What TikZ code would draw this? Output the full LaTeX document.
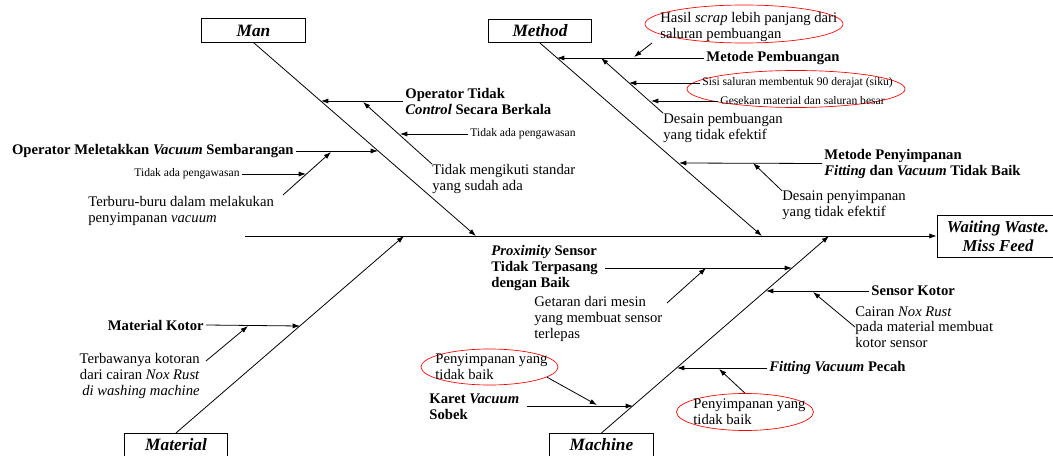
\documentclass[tikz,border=0pt]{standalone}
\usepackage{fontspec}
\setmainfont{Liberation Serif}
\usetikzlibrary{arrows.meta, shapes.geometric}
\tikzset{>={Latex[length=5.5pt,width=3.8pt]}}
\tikzset{every text node part/.style={align=left}}

\begin{document}
\begin{tikzpicture}[x={(0.75pt,0)}, y={(0,-0.75pt)}, line width=0.6pt,
	catbox/.style={draw, inner sep=0pt, minimum width=77.5pt, minimum height=17.5pt,
		font=\fontsize{13}{15}\selectfont\bfseries\itshape},
	cause/.style={inner sep=1.5pt, font=\fontsize{11}{12}\selectfont\bfseries},
	reason/.style={inner sep=0pt, font=\fontsize{11}{11.8}\selectfont},
	small/.style={inner sep=1.5pt, font=\fontsize{8.7}{10}\selectfont},
	ring/.style={draw=red, ellipse, inner sep=0pt, line width=0.5pt}]

\useasboundingbox (0,0) rectangle (1053,456);

% Head and Spine
\node[catbox, minimum width=91.5pt, minimum height=31.5pt, font=\fontsize{12.5}{14.5}\selectfont\bfseries\itshape,
	every text node part/.style={align=center}] (head) at (998,236)
	{Waiting Waste.\\Miss Feed};
\coordinate (tail) at (245,236);
\draw[->] (tail) -- (head.west);

% Category Boxes
\node[catbox] (man)      at (253.5,30.5) {Man};
\node[catbox] (method)   at (540,31)     {Method};
\node[catbox] (material) at (176,445)    {Material};
\node[catbox] (machine)  at (601.5,445)  {Machine};

\coordinate (manT)  at (476,236);
\coordinate (methT) at (762,236);
\coordinate (matT)  at (404,236);
\coordinate (macT)  at (829,236);

\foreach \cat/\tip in {man.south/manT, method.south/methT, material.north/matT, machine.north/macT}
	\draw[->] (\cat) -- (\tip);

% Man
\coordinate (m1) at (321,101);
\node[cause, anchor=west] (opctrl) at (403,101) {Operator Tidak\\\textit{Control} Secara Berkala};
\draw[->] (opctrl.west) -- (m1);
\node[reason, anchor=west] (standar) at (432,179) {Tidak mengikuti standar\\yang sudah ada};
\coordinate (m1b) at (363,102);
\draw[->] (standar.north west) -- (m1b);
\node[small, anchor=west] (awas1) at (468,134) {Tidak ada pengawasan};
\coordinate (m1c) at (400,134);
\draw[->] (awas1.west) -- (m1c);

\coordinate (m2) at (378,151);
\node[cause, anchor=east] (opvac) at (296,151) {Operator Meletakkan \textit{Vacuum} Sembarangan};
\draw[->] (opvac.east) -- (m2);
\node[reason, anchor=west] (rush) at (88,211) {Terburu-buru dalam melakukan\\penyimpanan \textit{vacuum}};
\coordinate (m2a) at (283,195);
\coordinate (m2b) at (331,152);
\draw[->] (m2a) -- (m2b);
\node[small, anchor=east] (awas2) at (242,174) {Tidak ada pengawasan};
\coordinate (m2c) at (306,174);
\draw[->] (awas2.east) -- (m2c);

% Method
\coordinate (t1) at (557,58);
\node[cause, anchor=west] (mbuang) at (704,58) {Metode Pembuangan};
\draw[->] (mbuang.west) -- (t1);
\node[ring, minimum width=148.5pt, minimum height=28.5pt] (ring1) at (744,24) {};
\node[reason, anchor=west] (scrap) at (660,27) {Hasil \textit{scrap} lebih panjang dari\\saluran pembuangan};
\coordinate (t1s) at (652,43);
\coordinate (t1e) at (634,57);
\draw[->] (t1s) -- (t1e);
\node[reason, anchor=west] (dpemb) at (663,128) {Desain pembuangan\\yang tidak efektif};
\coordinate (t1b) at (601,58);
\draw[->] (dpemb.north west) -- (t1b);
\node[ring, minimum width=163.5pt, minimum height=27.75pt] (ring2) at (796,89) {};
\node[small, anchor=west] (siku) at (700,83) {Sisi saluran membentuk 90 derajat (siku)};
\coordinate (t1c) at (629,83);
\draw[->] (siku.west) -- (t1c);
\node[small, anchor=west] (gesek) at (718,101) {Gesekan material dan saluran besar};
\coordinate (t1d) at (651,101);
\draw[->] (gesek.west) -- (t1d);

\coordinate (t2) at (679,163);
\node[cause, anchor=west] (msimpan) at (822,163.5) {Metode Penyimpanan\\\textit{Fitting} dan \textit{Vacuum} Tidak Baik};
\draw[->] (msimpan.west) -- (t2);
\node[reason, anchor=west] (dsimpan) at (782,205.5) {Desain penyimpanan\\yang tidak efektif};
\coordinate (t2b) at (753,163);
\draw[->] (dsimpan.north west) -- (t2b);

% Material
\coordinate (a1) at (300,326);
\node[cause, anchor=east] (mkotor) at (206,325) {Material Kotor};
\draw[->] (mkotor.east) -- (a1);
\node[reason, anchor=east, every text node part/.style={align=right}] (kotoran) at (200,376)
	{Terbawanya kotoran\\dari cairan \textit{Nox Rust}\\\textit{di washing machine}};
\coordinate (a1a) at (206,361);
\coordinate (a1b) at (248,326);
\draw[->] (a1a) -- (a1b);

% Machine
\coordinate (k1) at (792,268);
\node[cause, anchor=west] (prox) at (489,268) {\textit{Proximity} Sensor\\Tidak Terpasang\\dengan Baik};
\coordinate (k1s) at (605,268);
\draw[->] (k1s) -- (k1);
\node[reason, anchor=west] (getar) at (534,319) {Getaran dari mesin\\yang membuat sensor\\terlepas};
\coordinate (k1a) at (667,303);
\coordinate (k1b) at (706,268);
\draw[->] (k1a) -- (k1b);

\coordinate (k2) at (766,291);
\node[cause, anchor=west] (skotor) at (869,291) {Sensor Kotor};
\draw[->] (skotor.west) -- (k2);
\node[reason, anchor=west] (cairan) at (855,327) {Cairan \textit{Nox Rust}\\pada material membuat\\kotor sensor};
\coordinate (k2b) at (813,292);
\draw[->] (cairan.west) -- (k2b);

\coordinate (k3) at (677,368);
\node[cause, anchor=west] (fitting) at (767,368) {\textit{Fitting Vacuum} Pecah};
\draw[->] (fitting.west) -- (k3);
\node[ring, minimum width=102.75pt, minimum height=27.75pt] (ring3) at (745,412) {};
\node[reason, anchor=west] (simpan1) at (693,411.5) {Penyimpanan yang\\tidak baik};
\coordinate (k3b) at (719,369);
\draw[->] (ring3.north) -- (k3b);

\coordinate (k4) at (633,406);
\node[cause, anchor=west] (karet) at (427,406.5) {Karet \textit{Vacuum}\\Sobek};
\coordinate (k4s) at (527,406);
\draw[->] (k4s) -- (k4);
\node[ring, minimum width=102.75pt, minimum height=27pt] (ring4) at (489.5,367) {};
\node[reason, anchor=west] (simpan2) at (435,366.5) {Penyimpanan yang\\tidak baik};
\coordinate (k4b) at (597,405);
\draw[->] (ring4.-10) -- (k4b);

\end{tikzpicture}
\end{document}
